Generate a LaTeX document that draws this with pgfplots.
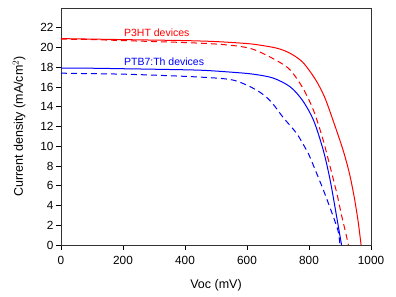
\documentclass[border=0pt]{standalone}
\usepackage{pgfplots}
\pgfplotsset{compat=1.18}
\usepackage{fontspec}
\setmainfont{Liberation Sans}
\begin{document}
\begin{tikzpicture}
\useasboundingbox (0,0) rectangle (396pt,297pt);
\begin{axis}[
  at={(61pt,52pt)}, anchor=south west,
  scale only axis, width=310pt, height=237pt,
  xmin=0, xmax=1000, ymin=0, ymax=24,
  xtick={0,200,...,1000}, ytick={0,2,...,22},
  tick align=outside, tick pos=left,
  major tick length=5pt,
  axis line style={line width=0.9pt, black!80},
  tick style={line width=0.8pt, black},
  /pgf/number format/assume math mode=true,
  /pgf/number format/1000 sep={},
  ticklabel style={font=\fontsize{11.8}{13}\selectfont},
  yticklabel style={xshift=1pt},
  xticklabel style={yshift=-3pt},
  label style={font=\fontsize{12.5}{14}\selectfont},
  xlabel={Voc (mV)}, ylabel={Current density (mA/cm$^2$)},
  xlabel style={yshift=-8pt},
  ylabel style={yshift=8pt},
  clip=true,
]
\addplot[red, line width=1pt, smooth] coordinates {
(0,20.9)(100,20.85)(200,20.8)(300,20.75)(400,20.7)(500,20.6)(600,20.4)(650,20.2)(700,19.9)(740,19.4)(780,18.5)(820,16.8)(850,15.0)(880,12.4)(910,9.6)(930,7.3)(945,5.0)(958,2.5)(968,0)};
\addplot[red, line width=1pt, smooth, dash pattern=on 6pt off 4pt] coordinates {
(0,20.85)(100,20.8)(200,20.7)(300,20.6)(400,20.5)(500,20.35)(580,20.1)(630,19.7)(700,18.6)(740,17.7)(780,15.9)(815,13.6)(845,10.7)(865,8.3)(890,5.2)(905,3.0)(918,1.3)(927,0)};
\addplot[blue, line width=1pt, smooth] coordinates {
(0,17.9)(100,17.9)(200,17.85)(300,17.8)(450,17.7)(550,17.5)(620,17.3)(685,16.9)(740,16.0)(780,14.6)(815,12.6)(846,9.6)(868,6.6)(889,2.9)(905,0)};
\addplot[blue, line width=1pt, smooth, dash pattern=on 6pt off 4pt] coordinates {
(0,17.4)(100,17.35)(200,17.3)(300,17.2)(450,17.0)(555,16.7)(630,15.7)(675,14.6)(717,12.9)(760,11.3)(792,9.6)(803,8.9)(846,5.6)(878,2.9)(894,1.4)(900,0)};
\node[anchor=west, inner sep=0pt, text=red, font=\fontsize{10.5}{12}\selectfont] at (axis cs:203,21.5) {P3HT devices};
\node[anchor=west, inner sep=0pt, text=blue, font=\fontsize{10.5}{12}\selectfont] at (axis cs:203,18.6) {PTB7:Th devices};
\end{axis}
\end{tikzpicture}
\end{document}
